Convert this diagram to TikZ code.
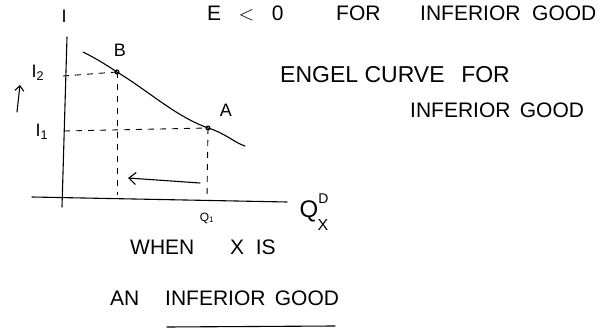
\documentclass[tikz,border=0pt]{standalone}
\usepackage{fontspec}
\setmainfont{Liberation Sans}
\usetikzlibrary{arrows.meta}
\begin{document}
\begin{tikzpicture}[x=1pt,y=-1pt,
  ink/.style={line width=1.1pt,line cap=round,line join=round},
  guide/.style={line width=0.9pt,dash pattern=on 6pt off 6pt},
  lbl/.style={font=\fontsize{18}{20}\selectfont,inner sep=0pt},
  big/.style={font=\fontsize{21}{23}\selectfont,inner sep=0pt}]
\useasboundingbox (0,0) rectangle (611,331);
% axes
\coordinate (ytop) at (67,37);
\coordinate (ybot) at (62,207);
\coordinate (xl) at (32,197);
\coordinate (xr) at (287,202);
\draw[ink] (ytop) -- (ybot);
\draw[ink] (xl) -- (xr);
\node[lbl] (ylab) at (64,16) {I};
\node[font=\fontsize{24}{26}\selectfont,inner sep=0pt] (xlab) at (314,212) {Q\raisebox{1.1ex}{\fontsize{14}{15}\selectfont D}\kern-0.45em\raisebox{-1.0ex}{\fontsize{16}{17}\selectfont X}};
% Engel curve
\coordinate (c0) at (83,52);
\coordinate (B) at (117,72);
\coordinate (A) at (208,128);
\coordinate (c1) at (245,146);
\draw[ink] (c0) .. controls (95,58) and (105,64) .. (B)
  .. controls (150,92) and (175,116) .. (A)
  .. controls (225,133) and (235,143) .. (c1);
\draw[ink] (B) circle (2pt);
\draw[ink] (A) circle (2pt);
\node[lbl] (Blab) at (120,50) {B};
\node[lbl] (Alab) at (226,110) {A};
% guides
\coordinate (yI2) at (63,76);
\coordinate (yI1) at (64,131);
\coordinate (xQ2) at (117,195);
\coordinate (xQ1) at (207,197);
\draw[guide] (yI2) -- (B);
\draw[guide] (yI1) -- (A);
\draw[guide] (B) -- (xQ2);
\draw[guide] (A) -- (xQ1);
\node[lbl] (I2lab) at (38,73) {I\textsubscript{2}};
\node[lbl] (I1lab) at (42,132) {I\textsubscript{1}};
\node[font=\fontsize{12}{13}\selectfont,inner sep=0pt] (Q1lab) at (207,218) {Q\textsubscript{1}};
% arrows
\coordinate (ar0) at (200,183);
\coordinate (ar1) at (128,178);
\draw[ink,-{Straight Barb[length=7pt,width=12pt]}] (ar0) -- (ar1);
\coordinate (up0) at (17,112);
\coordinate (up1) at (20,85);
\draw[ink,-{Straight Barb[length=5pt,width=9pt]}] (up0) -- (up1);
% texts
\node[big,anchor=west] (t1a) at (207,13) {E \;\;$<$\;\; 0};
\node[big,anchor=west] (t1b) at (336,13) {FOR};
\node[big,anchor=west] (t1c) at (420,13) {INFERIOR \;GOOD};
\node[font=\fontsize{23}{25}\selectfont,inner sep=0pt,anchor=west] (t2) at (280,75) {ENGEL CURVE \, FOR};
\node[big,anchor=west] (t3) at (410,110) {INFERIOR \,GOOD};
\node[big,anchor=west] (t4a) at (130,247) {WHEN};
\node[big,anchor=west] (t4b) at (230,247) {X \;IS};
\node[big,anchor=west] (t5a) at (110,298) {AN};
\node[big,anchor=west] (t5b) at (165,298) {INFERIOR \,GOOD};
\coordinate (u0) at (167,327);
\coordinate (u1) at (335,326);
\draw[ink] (u0) -- (u1);
\end{tikzpicture}
\end{document}
